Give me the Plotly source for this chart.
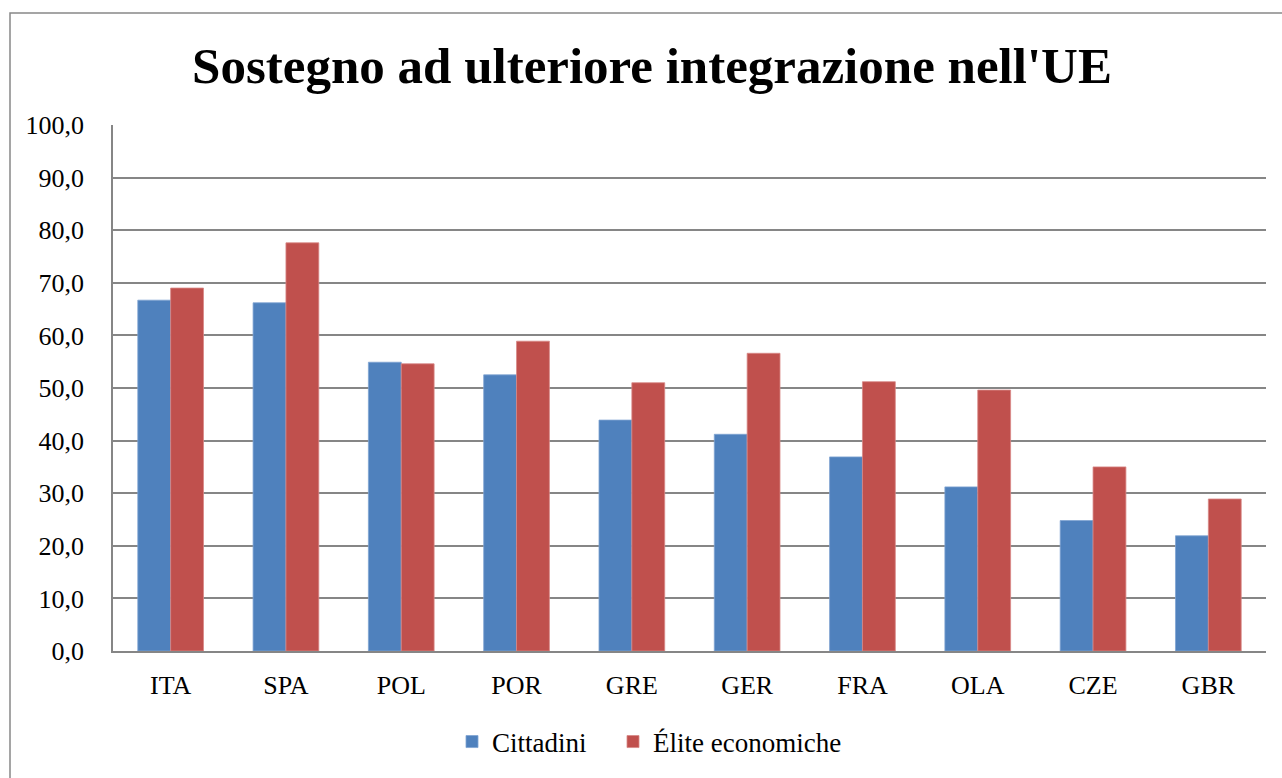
import plotly.graph_objects as go

categories = ["ITA", "SPA", "POL", "POR", "GRE", "GER", "FRA", "OLA", "CZE", "GBR"]
cittadini = [66.7, 66.2, 54.9, 52.5, 43.9, 41.2, 36.9, 31.2, 24.8, 21.9]
elite = [69.0, 77.6, 54.6, 58.9, 51.0, 56.6, 51.2, 49.6, 35.0, 28.9]
tick_vals = [0, 10, 20, 30, 40, 50, 60, 70, 80, 90, 100]

W, H = 1282, 778
L, R, T, B = 113, 16, 125, 127
pw, ph = W - L - R, H - T - B

FONT = "Liberation Serif, serif"

fig = go.Figure()
fig.add_trace(go.Bar(x=categories, y=cittadini, name="Cittadini", legend="legend",
                     marker=dict(color="#4F81BD", line=dict(color="#7FA3D2", width=0.8))))
fig.add_trace(go.Bar(x=categories, y=elite, name="Élite economiche", legend="legend2",
                     marker=dict(color="#C0504D", line=dict(color="#D88886", width=0.8))))

leg_y = -(742 - 651) / ph
leg_common = dict(orientation="h", xanchor="left", xref="paper", yanchor="middle", y=leg_y,
                  font=dict(family=FONT, size=27, color="black"), itemwidth=30,
                  bgcolor="rgba(0,0,0,0)")

fig.update_layout(
    width=W, height=H,
    margin=dict(l=L, r=R, t=T, b=B),
    paper_bgcolor="white", plot_bgcolor="white",
    showlegend=True,
    separators=",.",
    barmode="group", bargap=0.43, bargroupgap=0,
    font=dict(family=FONT, size=26, color="black"),
    title=dict(text="<b>Sostegno ad ulteriore integrazione nell'UE</b>",
               font=dict(family=FONT, size=51, color="black"),
               x=652 / W, xanchor="center", xref="container", y=1 - 65 / H, yanchor="middle"),
    legend=dict(x=(466 - 14 - L) / pw, **leg_common),
    legend2=dict(x=(627 - 14 - L) / pw, **leg_common),
    xaxis=dict(showgrid=False, showline=True, linecolor="#868686", linewidth=1.5,
               ticks="", ticklabelstandoff=10, tickfont=dict(family=FONT, size=26)),
    yaxis=dict(range=[0, 100], tickvals=tick_vals, tickformat=".1f",
               showgrid=True, gridcolor="#868686", gridwidth=1.5,
               showline=True, linecolor="#868686", linewidth=1.5,
               ticks="", ticklabelstandoff=22, zeroline=False,
               tickfont=dict(family=FONT, size=26)),
)

# outer chart border
fig.add_shape(type="rect", xref="paper", yref="paper",
              x0=(10 - L) / pw, x1=(W + 5 - L) / pw,
              y0=-(H + 5 - (T + ph)) / ph, y1=1 + (T - 13) / ph,
              line=dict(color="#888888", width=1.5), fillcolor="rgba(0,0,0,0)", layer="below")

fig.write_html("out.html", config={"displayModeBar": False},
               post_script="document.body.style.margin='0';document.body.style.overflow='hidden';")
